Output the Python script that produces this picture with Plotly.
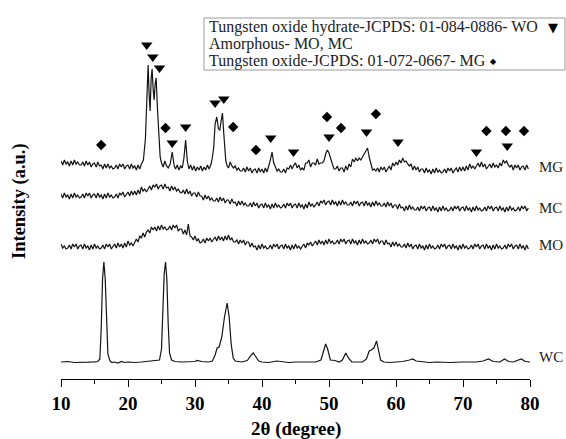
import plotly.graph_objects as go

# ---------------- data (intensity in arbitrary units, traces already stacked) ----------------
# scan positions (2θ) for the noisy patterns, 0.25° step
scan_x = [10, 10.25, 10.5, 10.75, 11, 11.25, 11.5, 11.75, 12, 12.25, 12.5, 12.75, 13, 13.25, 13.5, 13.75, 14, 14.25, 14.5, 14.75,
          15, 15.25, 15.5, 15.75, 16, 16.25, 16.5, 16.75, 17, 17.25, 17.5, 17.75, 18, 18.25, 18.5, 18.75, 19, 19.25, 19.5, 19.75,
          20, 20.25, 20.5, 20.75, 21, 21.25, 21.5, 21.75, 22, 22.25, 22.5, 22.75, 23, 23.25, 23.5, 23.75, 24, 24.25, 24.5, 24.75,
          25, 25.25, 25.5, 25.75, 26, 26.25, 26.5, 26.75, 27, 27.25, 27.5, 27.75, 28, 28.25, 28.5, 28.75, 29, 29.25, 29.5, 29.75,
          30, 30.25, 30.5, 30.75, 31, 31.25, 31.5, 31.75, 32, 32.25, 32.5, 32.75, 33, 33.25, 33.5, 33.75, 34, 34.25, 34.5, 34.75,
          35, 35.25, 35.5, 35.75, 36, 36.25, 36.5, 36.75, 37, 37.25, 37.5, 37.75, 38, 38.25, 38.5, 38.75, 39, 39.25, 39.5, 39.75,
          40, 40.25, 40.5, 40.75, 41, 41.25, 41.5, 41.75, 42, 42.25, 42.5, 42.75, 43, 43.25, 43.5, 43.75, 44, 44.25, 44.5, 44.75,
          45, 45.25, 45.5, 45.75, 46, 46.25, 46.5, 46.75, 47, 47.25, 47.5, 47.75, 48, 48.25, 48.5, 48.75, 49, 49.25, 49.5, 49.75,
          50, 50.25, 50.5, 50.75, 51, 51.25, 51.5, 51.75, 52, 52.25, 52.5, 52.75, 53, 53.25, 53.5, 53.75, 54, 54.25, 54.5, 54.75,
          55, 55.25, 55.5, 55.75, 56, 56.25, 56.5, 56.75, 57, 57.25, 57.5, 57.75, 58, 58.25, 58.5, 58.75, 59, 59.25, 59.5, 59.75,
          60, 60.25, 60.5, 60.75, 61, 61.25, 61.5, 61.75, 62, 62.25, 62.5, 62.75, 63, 63.25, 63.5, 63.75, 64, 64.25, 64.5, 64.75,
          65, 65.25, 65.5, 65.75, 66, 66.25, 66.5, 66.75, 67, 67.25, 67.5, 67.75, 68, 68.25, 68.5, 68.75, 69, 69.25, 69.5, 69.75,
          70, 70.25, 70.5, 70.75, 71, 71.25, 71.5, 71.75, 72, 72.25, 72.5, 72.75, 73, 73.25, 73.5, 73.75, 74, 74.25, 74.5, 74.75,
          75, 75.25, 75.5, 75.75, 76, 76.25, 76.5, 76.75, 77, 77.25, 77.5, 77.75, 78, 78.25, 78.5, 78.75, 79, 79.25, 79.5, 79.75]

mc_y = [185, 181, 186, 182, 184, 180, 185, 181, 186, 182, 184, 181, 182, 185, 181, 186, 183, 186, 181, 184,
        185, 181, 186, 182, 184, 180, 185, 181, 186, 182, 184, 181, 182, 185, 181, 186, 184, 187, 182, 185,
        187, 183, 188, 184, 188, 184, 189, 185, 192, 188, 190, 187, 190, 193, 189, 194, 192, 195, 190, 193,
        194, 190, 195, 191, 192, 188, 193, 189, 192, 188, 190, 187, 186, 189, 185, 190, 185, 188, 183, 186,
        186, 182, 187, 183, 183, 179, 184, 180, 183, 179, 181, 178, 178, 181, 177, 182, 178, 181, 176, 179,
        179, 175, 180, 176, 177, 173, 178, 174, 178, 174, 176, 173, 173, 176, 172, 177, 173, 176, 171, 174,
        175, 171, 176, 172, 174, 170, 175, 171, 176, 172, 174, 171, 172, 175, 171, 176, 173, 176, 171, 174,
        175, 171, 176, 172, 174, 170, 175, 171, 177, 173, 175, 172, 174, 177, 173, 178, 176, 179, 174, 177,
        178, 174, 179, 175, 177, 173, 178, 174, 179, 175, 177, 174, 174, 177, 173, 178, 175, 178, 173, 176,
        177, 173, 178, 174, 176, 172, 177, 173, 178, 174, 176, 173, 173, 176, 172, 177, 173, 176, 171, 174,
        174, 170, 175, 171, 172, 168, 173, 169, 174, 170, 172, 169, 169, 172, 168, 173, 170, 173, 168, 171,
        172, 168, 173, 169, 171, 167, 172, 168, 173, 169, 171, 168, 169, 172, 168, 173, 170, 173, 168, 171,
        172, 168, 173, 169, 171, 167, 172, 168, 173, 169, 171, 168, 169, 172, 168, 173, 170, 173, 168, 171,
        172, 168, 173, 169, 171, 167, 172, 168, 173, 169, 171, 168, 169, 172, 168, 173, 170, 173, 168, 171]

mo_y = [135, 131, 133, 130, 131, 134, 130, 135, 132, 135, 130, 133, 134, 130, 135, 131, 133, 129, 134, 130,
        135, 131, 133, 130, 131, 134, 130, 135, 132, 135, 130, 133, 135, 131, 136, 132, 135, 131, 136, 132,
        138, 134, 136, 133, 136, 140, 137, 143, 141, 146, 142, 147, 149, 146, 152, 149, 152, 148, 153, 149,
        154, 150, 152, 149, 150, 153, 149, 154, 151, 154, 148, 150, 150, 145, 149, 144, 155, 143, 142, 139,
        143, 138, 140, 136, 137, 140, 136, 141, 138, 141, 137, 140, 142, 138, 143, 139, 142, 138, 143, 139,
        144, 139, 141, 137, 137, 139, 135, 139, 136, 139, 134, 137, 137, 132, 136, 132, 133, 129, 134, 130,
        135, 131, 133, 130, 131, 134, 130, 135, 132, 135, 130, 133, 134, 130, 135, 131, 133, 129, 134, 130,
        135, 131, 133, 130, 132, 135, 131, 136, 134, 137, 133, 136, 138, 134, 139, 135, 138, 134, 139, 135,
        140, 136, 138, 135, 136, 139, 135, 140, 137, 140, 135, 138, 139, 135, 140, 136, 138, 134, 139, 135,
        140, 136, 138, 135, 136, 139, 135, 140, 137, 140, 135, 138, 138, 134, 139, 135, 136, 132, 137, 133,
        137, 133, 135, 132, 132, 135, 131, 136, 132, 135, 130, 133, 134, 130, 135, 131, 133, 129, 134, 130,
        135, 131, 133, 130, 131, 134, 130, 135, 132, 135, 130, 133, 134, 130, 135, 131, 133, 129, 134, 130,
        135, 131, 133, 130, 131, 134, 130, 135, 132, 135, 130, 133, 134, 130, 135, 131, 133, 129, 134, 130,
        135, 131, 133, 130, 131, 134, 130, 135, 132, 135, 130, 133, 134, 130, 135, 131, 133, 129, 134, 130]

# MG: 10-21.75° on the scan grid, 22-35.75° (sharp peaks) at its own positions, 36-79.75° on the scan grid
mg_low_y = [218, 214, 219, 215, 217, 213, 218, 214, 219, 215, 217, 214, 214, 217, 213, 218, 214, 217, 212, 215,
            216, 212, 217, 213, 214, 210, 215, 211, 215, 211, 213, 210, 211, 214, 210, 215, 212, 215, 210, 213,
            214, 210, 215, 211, 213, 209, 214, 210]
mg_mid_x = [22, 22.3, 22.6, 22.8, 23.0, 23.15, 23.3, 23.45, 23.6, 23.75, 23.9, 24.05, 24.2, 24.4, 24.6, 24.8,
            25.0, 25.25, 25.5, 25.75, 26.0, 26.3, 26.6, 26.9, 27.1, 27.35, 27.6, 27.85, 28.1, 28.35, 28.6, 28.85,
            29.1, 29.35, 29.6, 29.85, 30.1, 30.35, 30.6, 30.85, 31.1, 31.35, 31.6, 31.85, 32.1, 32.4, 32.6, 32.8,
            33.0, 33.25, 33.5, 33.7, 33.9, 34.1, 34.3, 34.6, 34.8, 35.0, 35.25, 35.5, 35.75]
mg_mid_y = [215, 219, 240, 290, 314, 285, 268, 300, 310, 290, 279, 295, 301, 270, 240, 222,
            216, 212, 218, 213, 211, 215, 227, 213, 210, 214, 209, 213, 211, 221, 239, 218,
            210, 214, 209, 213, 208, 212, 209, 213, 208, 212, 209, 214, 210, 215, 222, 232,
            255, 262, 250, 249, 258, 266, 245, 218, 213, 211, 217, 213, 211]
mg_high_y = [213, 209, 211, 208, 208, 211, 207, 212, 208, 211, 206, 209, 210, 206, 211, 207, 210, 206, 211, 207,
             212, 219, 227, 216, 212, 208, 210, 207, 207, 210, 206, 211, 210, 214, 210, 214, 216, 211, 214, 209,
             211, 209, 216, 216, 219, 212, 216, 216, 214, 220, 215, 216, 216, 218, 225, 229, 226, 219, 215, 210,
             210, 213, 208, 211, 211, 207, 213, 209, 215, 212, 220, 217, 221, 218, 221, 219, 222, 224, 227, 231,
             222, 214, 209, 210, 208, 211, 207, 212, 209, 212, 207, 210, 213, 209, 216, 213, 217, 214, 219, 216,
             221, 217, 218, 215, 213, 215, 209, 213, 209, 212, 207, 210, 210, 206, 211, 207, 209, 205, 210, 206,
             211, 207, 209, 206, 207, 210, 206, 211, 208, 211, 206, 209, 211, 207, 212, 208, 212, 208, 213, 209,
             215, 211, 213, 210, 213, 216, 212, 217, 212, 215, 210, 213, 215, 211, 216, 212, 214, 211, 216, 213,
             219, 216, 218, 214, 212, 214, 209, 214, 211, 214, 209, 212, 213, 209, 214, 210]

wc_x = [10, 11, 12, 13, 14, 15, 15.5, 15.8, 16.0, 16.2, 16.4, 16.6, 16.8, 17.0, 17.3, 17.6, 18, 18.5, 19, 19.5,
        20, 21, 22, 23, 24, 24.7, 25.0, 25.2, 25.4, 25.6, 25.8, 26.0, 26.2, 26.5, 27, 28, 29, 30, 30.3, 31,
        32, 32.6, 33.0, 33.3, 33.6, 34.0, 34.4, 34.8, 35.1, 35.4, 35.7, 36, 37, 37.8, 38.4, 38.7, 39.0, 39.5, 40, 41,
        42.2, 43, 44, 45, 46, 47, 48, 48.8, 49.2, 49.5, 49.8, 50.2, 50.9, 51.5, 52.0, 52.5, 52.9, 53.4, 54, 55,
        55.6, 56.0, 56.3, 56.7, 57.1, 57.4, 57.7, 58.2, 59, 60, 61, 62, 62.5, 63, 64, 65, 66, 68, 70, 72,
        73, 73.8, 74.5, 75.5, 76.2, 76.8, 77.5, 78.7, 79.3, 80]
wc_y = [17, 17.5, 16.5, 17, 16.8, 17.2, 17.5, 20, 50, 100, 117, 100, 55, 25, 18, 16.5, 17, 16, 17.5, 16.5,
        17, 16.5, 17, 17.5, 18, 19, 30, 60, 105, 117, 100, 55, 26, 19, 17.5, 17, 17.5, 17.5, 18.5, 17.5,
        17, 18, 24, 31, 32, 42, 62, 76, 62, 35, 21, 18, 17, 18.5, 24, 26, 23, 18, 17, 16.5,
        18, 17, 16.5, 17, 17, 16.5, 17, 19, 28, 35, 30, 19, 18.5, 17, 19, 26, 21, 17, 17, 17,
        20, 28, 29, 31, 38, 30, 19, 17, 16.5, 17, 17.5, 19, 20, 18, 17, 16.5, 17, 16.5, 17, 17,
        18, 20, 17.5, 17, 20, 17.5, 17, 20, 17.5, 17]

# phase markers above the MG pattern
tri_x = [22.8, 23.7, 24.7, 26.6, 28.6, 33.0, 34.3, 41.3, 44.7, 50.0, 55.6, 60.3, 72.0, 76.6]
tri_y = [334, 322, 311, 236, 252, 276, 280, 241, 227, 242, 247, 237, 227, 233]
dia_x = [16.0, 25.6, 35.7, 39.1, 49.7, 51.8, 57.0, 73.5, 76.4, 79.1]
dia_y = [234, 251, 252, 229, 262, 251, 265, 248, 248, 248]

sample_names = ["MG", "MC", "MO", "WC"]
sample_label_y = [212, 171, 134, 22]
x_ticks = [10, 20, 30, 40, 50, 60, 70, 80]
legend_lines = ["Tungsten oxide hydrate-JCPDS: 01-084-0886- WO",
                "Amorphous- MO, MC",
                "Tungsten oxide-JCPDS: 01-072-0667- MG"]

mg_x = scan_x[:48] + mg_mid_x + scan_x[104:]
mg_y = mg_low_y + mg_mid_y + mg_high_y
assert len(mg_x) == len(mg_y) and len(scan_x) == len(mc_y) == len(mo_y) and len(wc_x) == len(wc_y)

SERIF = "Liberation Serif, Times New Roman, serif"
LC = "#141414"

W, H = 566, 439
L, R, T, B = 61, 36, 0, 60
PW = W - L - R
PH = H - T - B


def px_x(px):
    return (px - L) / PW


def px_y(py):
    return (PH + T - py) / PH


fig = go.Figure()
for xs, ys, lw in [(wc_x, wc_y, 1.2), (scan_x, mo_y, 1.2), (scan_x, mc_y, 1.2), (mg_x, mg_y, 1.2)]:
    fig.add_trace(go.Scatter(x=xs, y=ys, mode="lines", line=dict(color=LC, width=lw),
                             showlegend=False, hoverinfo="skip"))
fig.add_trace(go.Scatter(x=tri_x, y=tri_y, mode="markers",
                         marker=dict(symbol="triangle-down", size=10, color="black"),
                         showlegend=False, hoverinfo="skip"))
fig.add_trace(go.Scatter(x=dia_x, y=dia_y, mode="markers",
                         marker=dict(symbol="diamond", size=8, color="black"),
                         showlegend=False, hoverinfo="skip"))

for name, yv in zip(sample_names, sample_label_y):
    fig.add_annotation(x=px_x(537), y=yv, xref="paper", yref="y", text=name, showarrow=False,
                       xanchor="left", yanchor="middle",
                       font=dict(family=SERIF, size=15, color="#222"))
fig.add_annotation(x=0.5, y=px_y(429), xref="paper", yref="paper", text="<b>2θ (degree)</b>",
                   showarrow=False, xanchor="center", yanchor="middle",
                   font=dict(family=SERIF, size=19, color="black"))
fig.add_annotation(x=px_x(19), y=px_y(201), xref="paper", yref="paper", text="<b>Intensity (a.u.)</b>",
                   showarrow=False, xanchor="center", yanchor="middle", textangle=-90,
                   font=dict(family=SERIF, size=18.5, color="black"))

# legend box
fig.add_shape(type="rect", xref="paper", yref="paper",
              x0=px_x(204), x1=px_x(565), y0=px_y(70), y1=px_y(18),
              line=dict(color="#9a9a9a", width=1), fillcolor="white", layer="below")
for i, line in enumerate(legend_lines):
    fig.add_annotation(x=px_x(207), y=px_y(27 + 17 * i), xref="paper", yref="paper",
                       text=line, showarrow=False, xanchor="left", yanchor="middle",
                       font=dict(family=SERIF, size=16, color="#222"))
fig.add_annotation(x=px_x(553), y=px_y(27), xref="paper", yref="paper",
                   text="▼", showarrow=False, xanchor="center", yanchor="middle",
                   font=dict(family="DejaVu Sans", size=13, color="black"))
fig.add_annotation(x=px_x(493), y=px_y(61), xref="paper", yref="paper",
                   text="◆", showarrow=False, xanchor="center", yanchor="middle",
                   font=dict(family="DejaVu Sans", size=8, color="black"))

fig.update_layout(
    width=W, height=H, margin=dict(l=L, r=R, t=T, b=B, pad=0),
    paper_bgcolor="white", plot_bgcolor="white",
    xaxis=dict(range=[10, 80], tickvals=x_ticks, ticks="outside", ticklen=7, tickwidth=1.2,
               tickcolor="black", showline=True, linecolor="black", linewidth=1.2,
               showgrid=False, zeroline=False,
               minor=dict(dtick=5, ticks="outside", ticklen=4, tickwidth=1.2, tickcolor="black", showgrid=False),
               tickfont=dict(family=SERIF, size=19, color="black", weight="bold")),
    yaxis=dict(range=[0, PH], visible=False, showgrid=False, zeroline=False),
)
fig.write_html("out.html", config={"displayModeBar": False},
               post_script="document.body.style.margin='0px';")
